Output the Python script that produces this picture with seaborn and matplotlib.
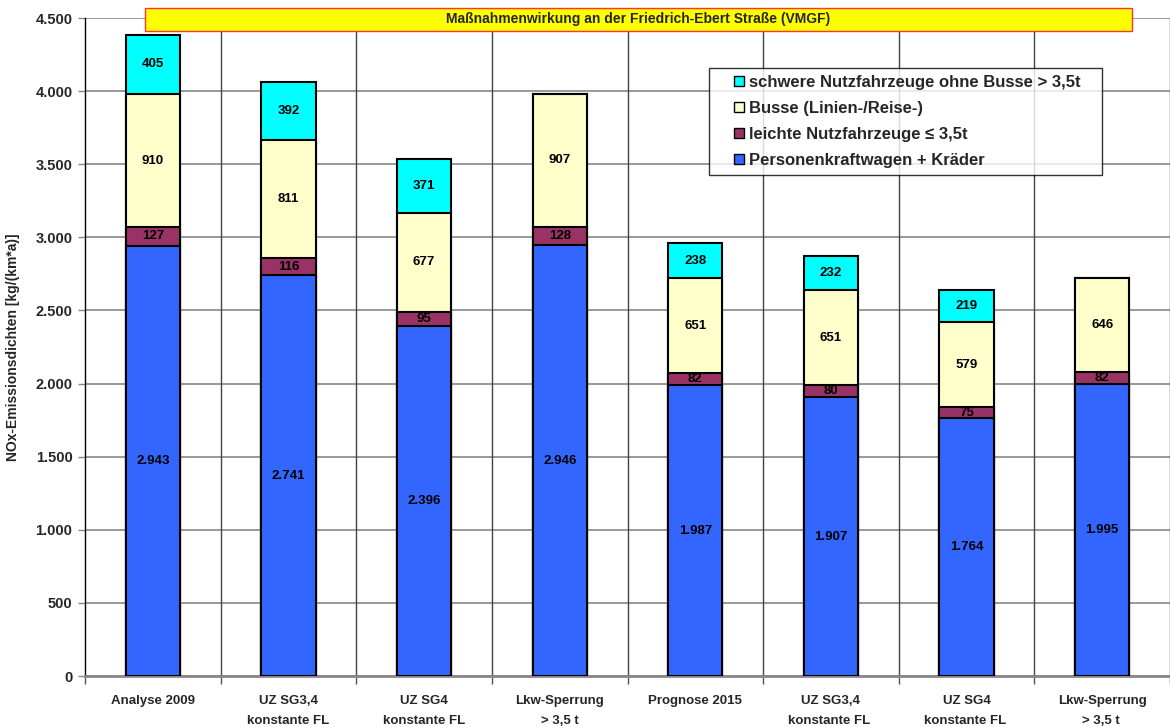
import numpy as np
import pandas as pd
import matplotlib
matplotlib.use("Agg")
import matplotlib.pyplot as plt
import seaborn as sns
from matplotlib.ticker import FuncFormatter, MultipleLocator, FixedLocator
from matplotlib.patches import Patch, Rectangle
from matplotlib.legend_handler import HandlerPatch

categories = ["Analyse 2009", "UZ SG3,4\nkonstante FL", "UZ SG4\nkonstante FL", "Lkw-Sperrung\n> 3,5 t",
              "Prognose 2015", "UZ SG3,4\nkonstante FL ", "UZ SG4\nkonstante FL ", "Lkw-Sperrung\n> 3,5 t "]
pkw = [2943, 2741, 2396, 2946, 1987, 1907, 1764, 1995]
lnf = [127, 116, 95, 128, 82, 80, 75, 82]
busse = [910, 811, 677, 907, 651, 651, 579, 646]
snf = [405, 392, 371, 0, 238, 232, 219, 0]

series_names = ["Personenkraftwagen + Kräder", "leichte Nutzfahrzeuge ≤ 3,5t",
                "Busse (Linien-/Reise-)", "schwere Nutzfahrzeuge ohne Busse > 3,5t"]
series_vals = [pkw, lnf, busse, snf]
colors = ["#3366FF", "#993366", "#FFFFCC", "#00FFFF"]

sns.set_theme(style="white")
plt.rcParams['font.family'] = ['Liberation Sans', 'DejaVu Sans']
plt.rcParams['font.weight'] = 'bold'

fig = plt.figure(figsize=(11.7, 7.27), dpi=100)
ax = fig.add_axes([85/1170, 1-676/727, 1-85/1170, (676-18)/727])

vals = np.array(series_vals, dtype=float)
cum = np.cumsum(vals, axis=0)

# draw from top segment down (cumulative stacking)
for i in range(3, -1, -1):
    df = pd.DataFrame({"cat": categories, "val": cum[i]})
    sns.barplot(data=df, x="cat", y="val", color=colors[i], width=0.4,
                edgecolor="black", linewidth=1.5, ax=ax, saturation=1, zorder=3)

# labels
for j in range(len(categories)):
    for i in range(4):
        v = vals[i, j]
        if v <= 0:
            continue
        bottom = cum[i, j] - v
        ax.text(j, bottom + v / 2, f"{int(v):,}".replace(",", "."), ha="center", va="center",
                fontsize=9.5, fontweight="bold", color="black", zorder=5)

ax.set_ylim(0, 4500)
ax.set_xlim(-0.5, len(categories) - 0.5)
ax.yaxis.set_major_locator(MultipleLocator(500))
ax.yaxis.set_major_formatter(FuncFormatter(lambda v, p: f"{int(v):,}".replace(",", ".")))
ax.set_xlabel("")
ax.set_ylabel("NOx-Emissionsdichten [kg/(km*a)]", fontsize=10, fontweight="bold", labelpad=11)
ax.tick_params(axis="y", labelsize=10.5, length=5, width=1, color="#888888", direction="out", left=True, pad=4)
ax.tick_params(axis="x", which="major", labelsize=9.5, length=0, pad=14)
ax.set_xticks(range(len(categories)))
ax.set_xticklabels(categories, fontweight="bold", fontsize=9.5, linespacing=1.85, va="top")
for t in ax.get_yticklabels():
    t.set_fontweight("bold")

# vertical lines between categories
bounds = np.arange(-0.5, len(categories), 1.0)
ax.xaxis.set_minor_locator(FixedLocator(bounds))
ax.tick_params(axis="x", which="minor", length=6, width=1, color="#555555", bottom=True)
for b in bounds[1:]:
    ax.axvline(b, color="#444444", linewidth=1, zorder=1)
ax.yaxis.grid(True, color="#888888", linewidth=1.2, zorder=0)
ax.set_axisbelow(True)

for s in ["top", "right"]:
    ax.spines[s].set_visible(False)
ax.spines["left"].set_color("black")
ax.spines["left"].set_linewidth(1)
ax.spines["bottom"].set_color("#888888")
ax.spines["bottom"].set_linewidth(2)

# title box
title_box = plt.Rectangle((145/1170, 1-31/727), (1132-145)/1170, 23/727, transform=fig.transFigure,
                          facecolor="#FFFF00", edgecolor="#FF3333", linewidth=1, zorder=5)
fig.patches.append(title_box)
fig.text(638/1170, 1-19.5/727, "Maßnahmenwirkung an der Friedrich-Ebert Straße (VMGF)",
         ha="center", va="center", fontsize=10, fontweight="bold", zorder=6)

# legend with small squares placed at the right of a wider handle area
def square_patch(legend, orig_handle, xdescent, ydescent, width, height, fontsize):
    s = 0.62 * fontsize
    return Rectangle((-xdescent + width - s, -ydescent + (height - s) / 2), s, s)

handles = [Patch(facecolor=colors[i], edgecolor="black", label=series_names[i]) for i in range(3, -1, -1)]
labels = [series_names[i] for i in range(3, -1, -1)]
labels[0] = labels[0] + "   "
leg = ax.legend(handles=handles, labels=labels, loc="upper left",
                bbox_to_anchor=((709-85)/1085, 1-(68-18)/658),
                frameon=True, fancybox=False, edgecolor="black",
                prop=dict(family=['Liberation Sans', 'DejaVu Sans'], weight='bold', size=12),
                handlelength=1.7, handleheight=0.7, handletextpad=0.3, labelspacing=0.65,
                borderpad=0.42, borderaxespad=0,
                handler_map={Patch: HandlerPatch(patch_func=square_patch)})
leg.get_frame().set_linewidth(1)
leg.set_zorder(10)

fig.savefig("out.png", dpi=100)
